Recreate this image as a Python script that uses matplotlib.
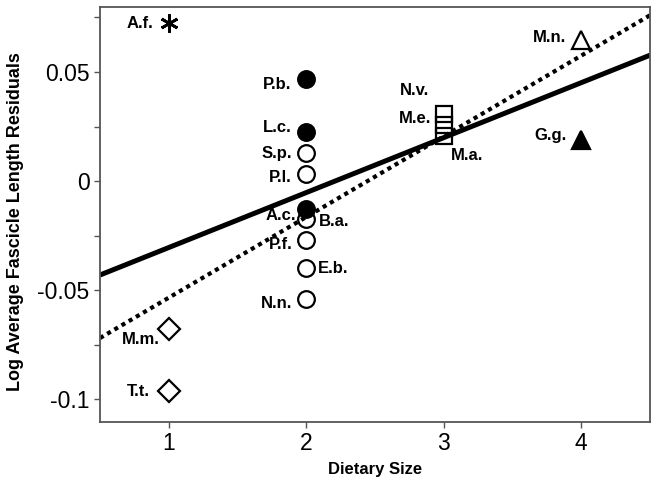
import numpy as np
import matplotlib
matplotlib.use('Agg')
import matplotlib.pyplot as plt
from matplotlib.ticker import FixedLocator

plt.rcParams['font.family'] = ['Liberation Sans', 'DejaVu Sans']

# data
species = ['A.f.', 'M.m.', 'T.t.', 'P.b.', 'L.c.', 'S.p.', 'P.l.', 'B.a.', 'A.c.',
           'P.f.', 'E.b.', 'N.n.', 'N.v.', 'M.e.', 'M.a.', 'M.n.', 'G.g.']
diet_size = [1, 1, 1, 2, 2, 2, 2, 2, 2, 2, 2, 2, 3, 3, 3, 4, 4]
residual = [0.0725, -0.0679, -0.0963, 0.0468, 0.0225, 0.0128, 0.0032, -0.0174, -0.0128,
            -0.0271, -0.0399, -0.0541, 0.0307, 0.0257, 0.0206, 0.0645, 0.0188]

# regression lines (intercept, slope)
fit_solid = (-0.0557, 0.0252)
fit_dotted = (-0.0905, 0.0370)

# marker style per point
markers = [(6, 2, 0), 'D', 'D', 'o', 'o', 'o', 'o', 'o', 'o',
           'o', 'o', 'o', 's', 's', 's', '^', '^']
filled = [False, False, False, True, True, False, False, False, True,
          False, False, False, False, False, False, False, True]
msizes = {'o': 12, 'D': 11, 's': 12, '^': 13}

# label offsets in pixels (dx, dy, ha)
lab_off = [(-15, -1, 'right'), (-9, -10, 'right'), (-19, 0, 'right'),
           (-15, -6, 'right'), (-15, 4, 'right'), (-14, 0, 'right'), (-15, -3, 'right'),
           (13, -3, 'left'), (-10, -7, 'right'), (-14, -4, 'right'), (12, 0, 'left'),
           (-14, -4, 'right'), (-15, 24, 'right'), (-12, 6, 'right'), (7, -19, 'left'),
           (-15, 3, 'right'), (-15, 5, 'right')]

fig = plt.figure(figsize=(6.55, 4.78), dpi=100)
ax = fig.add_axes([100/655, 56/478, 550/655, 415/478])

xlim = (0.5, 4.5)
xs = np.array(xlim)
ax.plot(xs, fit_solid[0] + fit_solid[1]*xs, color='black', lw=3.6,
        solid_capstyle='butt', zorder=2)
ax.plot(xs, fit_dotted[0] + fit_dotted[1]*xs, color='black', lw=3.0,
        linestyle=(0, (1, 1)), dash_capstyle='butt', zorder=2)

for i, name in enumerate(species):
    m = markers[i]
    if isinstance(m, tuple):
        ax.plot(diet_size[i], residual[i], marker=m, ms=13, mew=2,
                color='black', linestyle='none', zorder=3)
    else:
        ax.plot(diet_size[i], residual[i], marker=m, ms=msizes[m], mew=1.6,
                mec='black', mfc='black' if filled[i] else 'none',
                linestyle='none', zorder=3)
    dx, dy, ha = lab_off[i]
    ax.annotate(name, (diet_size[i], residual[i]), xytext=(dx, dy),
                textcoords='offset pixels', ha=ha, va='center',
                fontsize=12, fontweight='bold', zorder=4)

ax.set_xlim(*xlim)
ax.set_ylim(-0.1105, 0.0798)
ax.xaxis.set_major_locator(FixedLocator([1, 2, 3, 4]))
ax.yaxis.set_major_locator(FixedLocator([-0.1, -0.05, 0, 0.05]))
ax.yaxis.set_minor_locator(FixedLocator([-0.075, -0.025, 0.025, 0.075]))
ax.set_yticklabels(['-0.1', '-0.05', '0', '0.05'])
ax.tick_params(axis='both', which='both', direction='out', length=4.5, width=1,
               color='#555555', labelsize=16.5, pad=3)

for s in ax.spines.values():
    s.set_color('#555555')
    s.set_linewidth(1.3)

ax.set_xlabel('Dietary Size', fontsize=12, fontweight='bold', labelpad=5)
ax.set_ylabel('Log Average Fascicle Length Residuals', fontsize=13, fontweight='bold')
ax.yaxis.set_label_coords(-0.138, 0.482)

fig.savefig('out.png', dpi=100)
